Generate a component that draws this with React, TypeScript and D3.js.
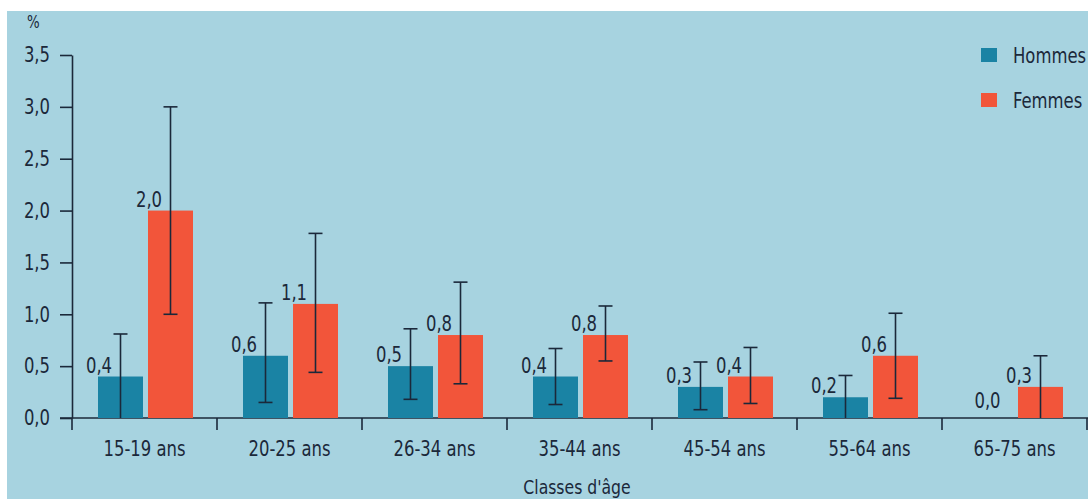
import { useEffect, useRef } from 'react';
import * as d3 from 'd3';

const categories = ['15-19 ans', '20-25 ans', '26-34 ans', '35-44 ans', '45-54 ans', '55-64 ans', '65-75 ans'];
const series = ['Hommes', 'Femmes'];
const hommes = [0.4, 0.6, 0.5, 0.4, 0.3, 0.2, 0.0];
const femmes = [2.0, 1.1, 0.8, 0.8, 0.4, 0.6, 0.3];
const hommesLow = [0.0, 0.15, 0.18, 0.13, 0.08, 0.0, null];
const hommesHigh = [0.81, 1.11, 0.86, 0.67, 0.54, 0.41, null];
const femmesLow = [1.0, 0.44, 0.33, 0.55, 0.14, 0.19, 0.0];
const femmesHigh = [3.0, 1.78, 1.31, 1.08, 0.68, 1.01, 0.6];
const yTicks = [0, 0.5, 1, 1.5, 2, 2.5, 3, 3.5];

const FONT = '"DejaVu Sans Condensed", "DejaVu Sans", sans-serif';
const INK = '#1b283a';
const SX = 0.87; // narrow the glyphs a bit, the original face is condensed
const colors: Record<string, string> = { Hommes: '#1a83a4', Femmes: '#f2553a' };

export default function App() {
  const svgRef = useRef<SVGSVGElement | null>(null);

  useEffect(() => {
    if (!svgRef.current) return;
    const svg = d3.select(svgRef.current);
    svg.selectAll('*').remove();

    const width = 1088;
    const height = 499;
    const left = 72;
    const right = 1087;
    const base = 418;

    const label = (
      g: d3.Selection<any, unknown, null, undefined>,
      px: number,
      py: number,
      txt: string,
      size = 21,
      anchor = 'start'
    ) =>
      g
        .append('text')
        .attr('transform', `translate(${px},${py}) scale(${SX},1)`)
        .attr('text-anchor', anchor)
        .attr('fill', INK)
        .style('font-family', FONT)
        .style('font-size', `${size}px`)
        .text(txt);

    svg.append('rect').attr('width', width).attr('height', height).attr('fill', '#fff');
    svg.append('rect').attr('x', 7).attr('y', 11).attr('width', width - 7).attr('height', height - 11).attr('fill', '#a7d3e0');

    const x = d3.scaleBand<string>().domain(categories).range([left, right]);
    const xs = d3.scaleBand<string>().domain(series).range([26, 121]).paddingInner(0.1);
    const y = d3.scaleLinear().domain([0, 3.5]).range([base, 55]);
    const fmt = (v: number) => v.toFixed(1).replace('.', ',');

    // y axis
    const ya = svg
      .append('g')
      .attr('transform', `translate(${left},0)`)
      .call(
        d3.axisLeft(y).tickValues(yTicks).tickSize(12).tickSizeOuter(0).tickPadding(10).tickFormat((d) => fmt(+d))
      );
    ya.select('.domain').attr('stroke', INK).attr('stroke-width', 1.6);
    ya.selectAll('.tick line').attr('stroke', INK).attr('stroke-width', 1.6);
    ya.selectAll('.tick text')
      .attr('x', -22 / SX)
      .attr('transform', `scale(${SX},1)`)
      .attr('fill', INK)
      .style('font-family', FONT)
      .style('font-size', '21px');
    svg.append('line').attr('x1', left).attr('x2', left).attr('y1', base).attr('y2', base + 12).attr('stroke', INK).attr('stroke-width', 1.6);

    label(svg, 27, 28, '%', 17);

    // x axis
    svg.append('line').attr('x1', left - 12).attr('x2', width).attr('y1', base).attr('y2', base).attr('stroke', INK).attr('stroke-width', 1.6);
    svg
      .append('g')
      .selectAll('line')
      .data(categories)
      .join('line')
      .attr('x1', (d) => x(d)! + x.step())
      .attr('x2', (d) => x(d)! + x.step())
      .attr('y1', base)
      .attr('y2', base + 12)
      .attr('stroke', INK)
      .attr('stroke-width', 1.6);
    const xl = svg.append('g');
    categories.forEach((c) => label(xl, x(c)! + x.bandwidth() / 2, 456, c, 21, 'middle'));

    label(svg, 577, 494, "Classes d'âge", 20, 'middle');

    const rows = categories.flatMap((c, i) => [
      { cat: c, s: 'Hommes', v: hommes[i], lo: hommesLow[i], hi: hommesHigh[i] },
      { cat: c, s: 'Femmes', v: femmes[i], lo: femmesLow[i], hi: femmesHigh[i] },
    ]);

    // bars
    svg
      .append('g')
      .selectAll('rect')
      .data(rows)
      .join('rect')
      .attr('x', (d) => x(d.cat)! + xs(d.s)!)
      .attr('y', (d) => y(d.v))
      .attr('width', xs.bandwidth())
      .attr('height', (d) => base - y(d.v))
      .attr('fill', (d) => colors[d.s]);

    // error bars
    const eb = svg.append('g').attr('stroke', INK).attr('stroke-width', 1.6);
    rows.filter((d) => d.lo !== null && d.hi !== null).forEach((d) => {
      const cx = x(d.cat)! + xs(d.s)! + xs.bandwidth() / 2;
      eb.append('line').attr('x1', cx).attr('x2', cx).attr('y1', y(d.lo!)).attr('y2', y(d.hi!));
      eb.append('line').attr('x1', cx - 7).attr('x2', cx + 7).attr('y1', y(d.hi!)).attr('y2', y(d.hi!));
      if (d.lo! > 0) eb.append('line').attr('x1', cx - 7).attr('x2', cx + 7).attr('y1', y(d.lo!)).attr('y2', y(d.lo!));
    });

    // value labels
    const vl = svg.append('g');
    rows.forEach((d) => {
      const bx = x(d.cat)! + xs(d.s)!;
      const px = d.v === 0 ? bx + xs.bandwidth() / 2 - 3 : bx + 1;
      const py = y(d.v) - (d.v === 0 ? 10 : 4);
      label(vl, px, py, fmt(d.v), 21, 'middle');
    });

    // legend
    const lg = svg.append('g');
    series.forEach((s, i) => {
      lg.append('rect').attr('x', 981).attr('y', 48 + i * 45).attr('width', 16).attr('height', 14).attr('fill', colors[s]);
      label(lg, 1013, 63 + i * 45, s, 21);
    });
  }, []);

  return (
    <svg
      ref={svgRef}
      width={1088}
      height={499}
      style={{ position: 'absolute', left: 0, top: 0, display: 'block' }}
    />
  );
}
